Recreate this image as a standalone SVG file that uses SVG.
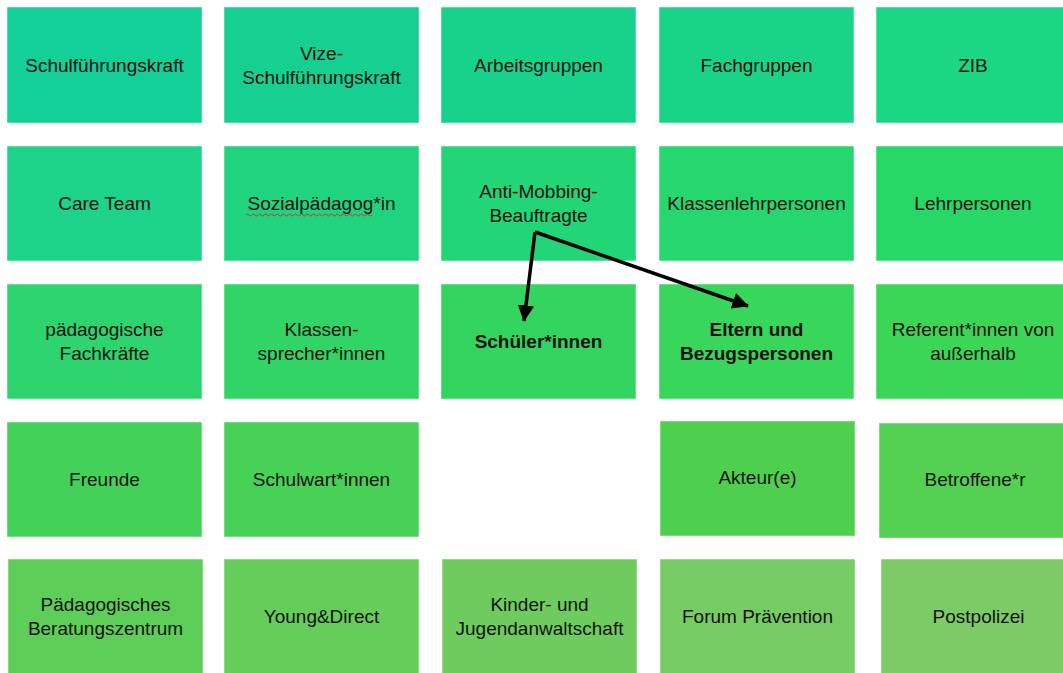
<svg xmlns="http://www.w3.org/2000/svg" width="1063" height="673" viewBox="0 0 1063 673">
<style>
rect{stroke:#ffffff;stroke-opacity:0.5;stroke-width:1}
text{font-family:"Liberation Sans",Arial,sans-serif;font-size:19px;fill:#111;text-anchor:middle}
.b{font-weight:bold}
.c{stroke:#000;stroke-width:3.5;fill:none}
</style>
<defs>
<marker id="ah" viewBox="0 0 10 10" refX="9.5" refY="5" markerWidth="4.7" markerHeight="4.7" orient="auto" markerUnits="strokeWidth">
<path d="M0,0 L10,5 L0,10 z" fill="#000"/>
</marker>
</defs>
<rect width="1063" height="673" fill="#fff" stroke="none"/>
<g id="n1"><rect x="7" y="7" width="195" height="116" fill="#13CF98"/><text x="104.5" y="72">Schulführungskraft</text></g>
<g id="n2"><rect x="224" y="7" width="195" height="116" fill="#15D091"/><text x="321.5" y="60">Vize-</text><text x="321.5" y="84">Schulführungskraft</text></g>
<g id="n3"><rect x="441" y="7" width="195" height="116" fill="#17D28B"/><text x="538.5" y="72">Arbeitsgruppen</text></g>
<g id="n4"><rect x="659" y="7" width="195" height="116" fill="#19D486"/><text x="756.5" y="72">Fachgruppen</text></g>
<g id="n5"><rect x="876" y="7" width="190" height="116" fill="#1BD683"/><text x="973" y="72">ZIB</text></g>

<g id="n6"><rect x="7" y="146" width="195" height="115" fill="#1DD38A"/><text x="104.5" y="210">Care Team</text></g>
<g id="n7"><rect x="224" y="146" width="195" height="115" fill="#20D47F"/><text x="321.5" y="210">Sozialpädagog*in</text><path d="M246,215 q1.5,-2 3,0 t3,0 t3,0 t3,0 t3,0 t3,0 t3,0 t3,0 t3,0 t3,0 t3,0 t3,0 t3,0 t3,0 t3,0 t3,0 t3,0 t3,0 t3,0 t3,0 t3,0 t3,0 t3,0 t3,0 t3,0 t3,0 t3,0 t3,0 t3,0 t3,0 t3,0 t3,0 t3,0 t3,0 t3,0 t3,0 t3,0 t3,0 t3,0 t3,0 t3,0 t3,0" fill="none" stroke="#D02020" stroke-width="0.8"/></g>
<g id="n8"><rect x="441" y="146" width="195" height="115" fill="#22D677"/><text x="538.5" y="198">Anti-Mobbing-</text><text x="538.5" y="222">Beauftragte</text></g>
<g id="n9"><rect x="659" y="146" width="195" height="115" fill="#25D76E"/><text x="756.5" y="210">Klassenlehrpersonen</text></g>
<g id="n10"><rect x="876" y="146" width="190" height="115" fill="#28D866"/><text x="973" y="210">Lehrpersonen</text></g>

<g id="n11"><rect x="7" y="284" width="195" height="115" fill="#2ED46E"/><text x="104.5" y="336">pädagogische</text><text x="104.5" y="360">Fachkräfte</text></g>
<g id="n12"><rect x="224" y="284" width="195" height="115" fill="#31D565"/><text x="321.5" y="336">Klassen-</text><text x="321.5" y="360">sprecher*innen</text></g>
<g id="n13"><rect x="441" y="284" width="195" height="115" fill="#34D55F"/><text class="b" x="538.5" y="348">Schüler*innen</text></g>
<g id="n14"><rect x="659" y="284" width="195" height="115" fill="#38D65A"/><text class="b" x="756.5" y="336">Eltern und</text><text class="b" x="756.5" y="360">Bezugspersonen</text></g>
<g id="n15"><rect x="876" y="284" width="190" height="115" fill="#3CD656"/><text x="973" y="336">Referent*innen von</text><text x="973" y="360">außerhalb</text></g>

<g id="n16"><rect x="7" y="422" width="195" height="115" fill="#44D15A"/><text x="104.5" y="486">Freunde</text></g>
<g id="n17"><rect x="224" y="422" width="195" height="115" fill="#47D157"/><text x="321.5" y="486">Schulwart*innen</text></g>
<g id="n18"><rect x="660" y="421" width="195" height="115" fill="#4ED04E"/><text x="757.5" y="484">Akteur(e)</text></g>
<g id="n19"><rect x="879" y="423" width="187" height="115" fill="#54D152"/><text x="975" y="486">Betroffene*r</text></g>

<g id="n20"><rect x="8" y="559" width="195" height="116" fill="#5DCE57"/><text x="105.5" y="611">Pädagogisches</text><text x="105.5" y="635">Beratungszentrum</text></g>
<g id="n21"><rect x="224" y="559" width="195" height="116" fill="#66CD5A"/><text x="321.5" y="623">Young&amp;Direct</text></g>
<g id="n22"><rect x="442" y="559" width="195" height="116" fill="#6ECC5E"/><text x="539.5" y="611">Kinder- und</text><text x="539.5" y="635">Jugendanwaltschaft</text></g>
<g id="n23"><rect x="660" y="559" width="195" height="116" fill="#76CB62"/><text x="757.5" y="623">Forum Prävention</text></g>
<g id="n24"><rect x="881" y="559" width="185" height="116" fill="#7DCB66"/><text x="978.5" y="623">Postpolizei</text></g>

<g id="connectors">
<path class="c" d="M535,232 L524,321" marker-end="url(#ah)"/>
<path class="c" d="M535,232 L748,306" marker-end="url(#ah)"/>
</g>
</svg>
